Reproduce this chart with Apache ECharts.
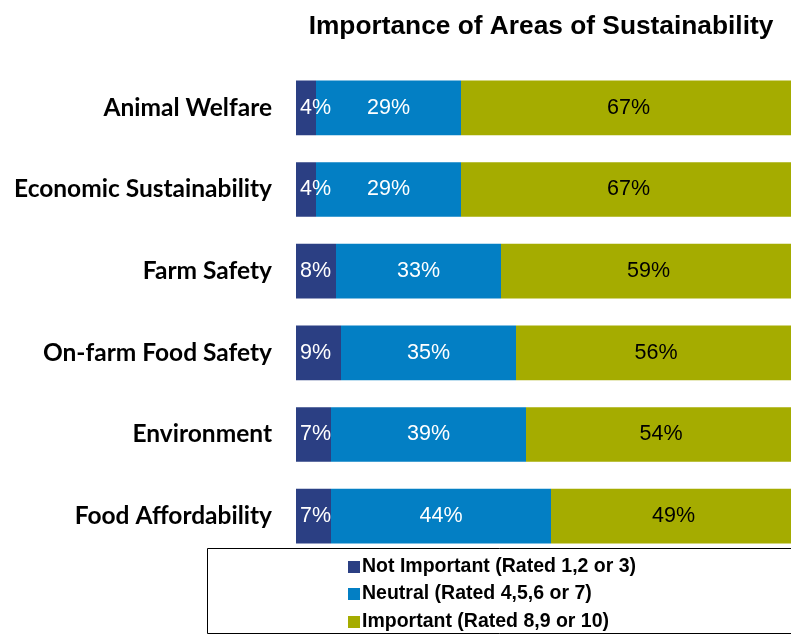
<!DOCTYPE html>
<html><head><meta charset="utf-8">
<script src="https://cdn.jsdelivr.net/npm/echarts@6/dist/echarts.min.js"></script>
<style>html,body{margin:0;padding:0;background:#fff}#c{width:791px;height:635px}</style>
</head><body><div id="c"></div>
<script>
const categories = ["Animal Welfare","Economic Sustainability","Farm Safety","On-farm Food Safety","Environment","Food Affordability"];
const notImportant = [4,4,8,9,7,7];
const neutral = [29,29,33,35,39,44];
const important = [67,67,59,56,54,49];
const seriesNames = ["Not Important (Rated 1,2 or 3)","Neutral (Rated 4,5,6 or 7)","Important (Rated 8,9 or 10)"];
const colors = ["#2B3F83","#037FC4","#A5AC00"];

const chart = echarts.init(document.getElementById('c'));
const lbl = (color, pos, dist) => ({show:true, position:pos, distance:dist||0, color:color, fontFamily:'Liberation Sans, Arial, sans-serif', fontSize:21.5, formatter:'{c}%'});
const legendTops = [557, 584, 612];
const legends = seriesNames.map((n, i) => ({orient:'vertical', left:348, top:legendTops[i], itemWidth:12, itemHeight:12, icon:'rect', padding:0,
    textStyle:{fontFamily:'Liberation Sans, Arial, sans-serif', fontWeight:'bold', fontSize:19.5, color:'#000', padding:[0,0,0,-3]},
    data:[n]}));
chart.setOption({
  animation:false,
  title:{text:'Importance of Areas of Sustainability', left:536, top:9, textAlign:'center',
    textStyle:{fontFamily:'Liberation Sans, Arial, sans-serif', fontWeight:'bold', fontSize:26.3, color:'#000'}},
  grid:{left:296, right:0, top:67, bottom:78, containLabel:false},
  xAxis:{type:'value', min:0, max:99, show:false},
  yAxis:{type:'category', data:categories, inverse:true,
    axisLine:{show:false}, axisTick:{show:false}, axisLabel:{margin:24, color:'#000', fontFamily:'Lato, sans-serif', fontWeight:'bold', fontSize:24.5}},
  legend:legends,
  graphic:[{type:'rect', shape:{x:207.5, y:548.5, width:600, height:85}, style:{fill:'none', stroke:'#000', lineWidth:1}, z:-1}],
  series:[
    {name:seriesNames[0], type:'bar', stack:'a', clip:false, barCategoryGap:'33%', data:notImportant, itemStyle:{color:colors[0]}, label:lbl('#fff','insideLeft',4)},
    {name:seriesNames[1], type:'bar', stack:'a', clip:false, data:neutral, itemStyle:{color:colors[1]}, label:lbl('#fff','inside')},
    {name:seriesNames[2], type:'bar', stack:'a', clip:false, data:important, itemStyle:{color:colors[2]}, label:lbl('#000','inside')}
  ]
});
</script></body></html>
